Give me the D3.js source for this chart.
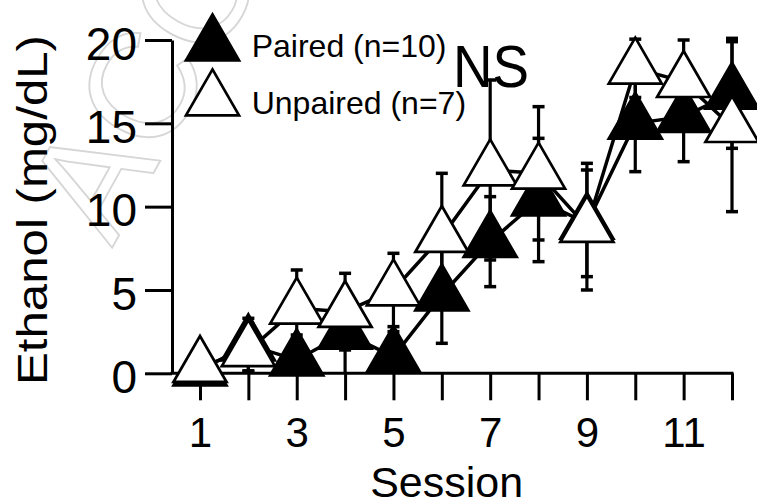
<!DOCTYPE html>
<html>
<head>
<meta charset="utf-8">
<script src="https://cdn.jsdelivr.net/npm/d3@7"></script>
<style>
  html, body { margin: 0; padding: 0; background: #fff; }
  svg { display: block; font-family: "Liberation Sans", Arial, Helvetica, sans-serif; }
</style>
</head>
<body>
<svg id="chart" width="757" height="504"></svg>
<script>
// ---- data ----
const sessions = [1, 2, 3, 4, 5, 6, 7, 8, 9, 10, 11, 12];
const pairedMean = [0.2, 1.7, 0.8, 2.4, 1.0, 4.7, 7.9, 10.4, 9.0, 15.0, 15.4, 16.8];
const pairedSE   = [0.3, 1.6, 1.5, 2.5, 1.5, 2.9, 2.7, 3.7, 3.2, 2.9, 2.7, 3.3];
const unpairedMean = [0.4, 1.35, 3.9, 3.7, 5.0, 8.2, 12.2, 12.0, 8.8, 18.3, 17.5, 14.8];
const unpairedSE   = [0.3, 1.2, 2.3, 2.3, 2.2, 3.8, 5.4, 4.0, 3.8, 1.75, 2.5, 5.1];
const yTicks = [0, 5, 10, 15, 20];
const xTickLabels = ["1", "", "3", "", "5", "", "7", "", "9", "", "11", ""];
const legendLabels = ["Paired (n=10)", "Unpaired (n=7)"];
const yTitle = "Ethanol (mg/dL)";
const xTitle = "Session";
const note = "NS";

const svg = d3.select("#chart");

// faint watermark
svg.append("text")
  .attr("transform", "translate(112,248) rotate(-61)")
  .attr("font-size", 150)
  .attr("fill", "none")
  .attr("stroke", "#d6d6d6")
  .attr("stroke-width", 1.8)
  .text("ACCEPTED");

const x = d3.scaleLinear().domain([1, 12]).range([200, 732]);
const y = d3.scaleLinear().domain([0, 20]).range([373.3, 40]);
const axisX0 = 172;

// y axis
const yAxis = svg.append("g")
  .attr("transform", `translate(${axisX0},0)`)
  .call(d3.axisLeft(y).tickValues(yTicks).tickSize(27).tickSizeOuter(0).tickPadding(8));
yAxis.select(".domain").attr("stroke", "#000").attr("stroke-width", 3);
yAxis.selectAll(".tick line").attr("stroke", "#000").attr("stroke-width", 3);
yAxis.selectAll(".tick text")
  .attr("font-size", 46).attr("fill", "#000")
  .attr("font-family", "Liberation Sans, Arial, sans-serif")
  .attr("dy", "0.42em");

// x axis
const xAxis = svg.append("g")
  .attr("transform", `translate(0,${y(0)})`)
  .call(d3.axisBottom(x).tickValues(sessions).tickSize(27).tickSizeOuter(0).tickPadding(16.6)
    .tickFormat((d, i) => xTickLabels[i]));
xAxis.select(".domain").remove();
xAxis.append("line")
  .attr("x1", axisX0 - 1.5).attr("x2", x(12) + 1.5)
  .attr("y1", 0).attr("y2", 0)
  .attr("stroke", "#000").attr("stroke-width", 3);
xAxis.selectAll(".tick line").attr("stroke", "#000").attr("stroke-width", 3);
xAxis.selectAll(".tick text")
  .attr("font-size", 42).attr("fill", "#000")
  .attr("font-family", "Liberation Sans, Arial, sans-serif");

// axis titles
svg.append("text")
  .attr("x", x(6.1)).attr("y", 497)
  .attr("text-anchor", "middle")
  .attr("font-size", 43)
  .text(xTitle);
svg.append("text")
  .attr("transform", "translate(47,210) rotate(-90)")
  .attr("text-anchor", "middle")
  .attr("font-size", 43)
  .attr("textLength", 350)
  .attr("lengthAdjust", "spacingAndGlyphs")
  .text(yTitle);

const series = [
  { mean: pairedMean, se: pairedSE, fill: "#000" },
  { mean: unpairedMean, se: unpairedSE, fill: "#fff" }
];

const line = d3.line().x((d, i) => x(sessions[i])).y(d => y(d));
const tri = d3.symbol().type(d3.symbolTriangle).size(1220);

// connecting lines first
series.forEach(s => {
  svg.append("path")
    .attr("d", line(s.mean))
    .attr("fill", "none")
    .attr("stroke", "#000")
    .attr("stroke-width", 3.5);
});

// error bars (clipped at the x axis) and markers per series
series.forEach(s => {
  const g = svg.append("g");
  s.mean.forEach((m, i) => {
    const cx = x(sessions[i]);
    const top = y(m + s.se[i]);
    const lowVal = m - s.se[i];
    const bot = y(Math.max(0, lowVal));
    g.append("line").attr("x1", cx).attr("x2", cx).attr("y1", top).attr("y2", bot)
      .attr("stroke", "#000").attr("stroke-width", 3.2);
    const caps = lowVal >= 0 ? [top, bot] : [top];
    caps.forEach(yy => {
      g.append("line").attr("x1", cx - 6).attr("x2", cx + 6).attr("y1", yy).attr("y2", yy)
        .attr("stroke", "#000").attr("stroke-width", 3.5);
    });
  });
  s.mean.forEach((m, i) => {
    g.append("path")
      .attr("d", tri())
      .attr("transform", `translate(${x(sessions[i])},${y(m)})`)
      .attr("fill", s.fill)
      .attr("stroke", "#000")
      .attr("stroke-width", 2.7);
  });
});

// legend
const legend = svg.append("g");
[[45, 56.7], [100, 113.5]].forEach(([cy, by], i) => {
  legend.append("path")
    .attr("d", tri())
    .attr("transform", `translate(212.5,${cy})`)
    .attr("fill", series[i].fill)
    .attr("stroke", "#000")
    .attr("stroke-width", 2.7);
  legend.append("text")
    .attr("x", 251.7).attr("y", by)
    .attr("font-size", 32)
    .text(legendLabels[i]);
});

// NS annotation
svg.append("text")
  .attr("x", 453).attr("y", 86.7)
  .attr("font-size", 60)
  .attr("textLength", 76)
  .attr("lengthAdjust", "spacingAndGlyphs")
  .text(note);
</script>
</body>
</html>
